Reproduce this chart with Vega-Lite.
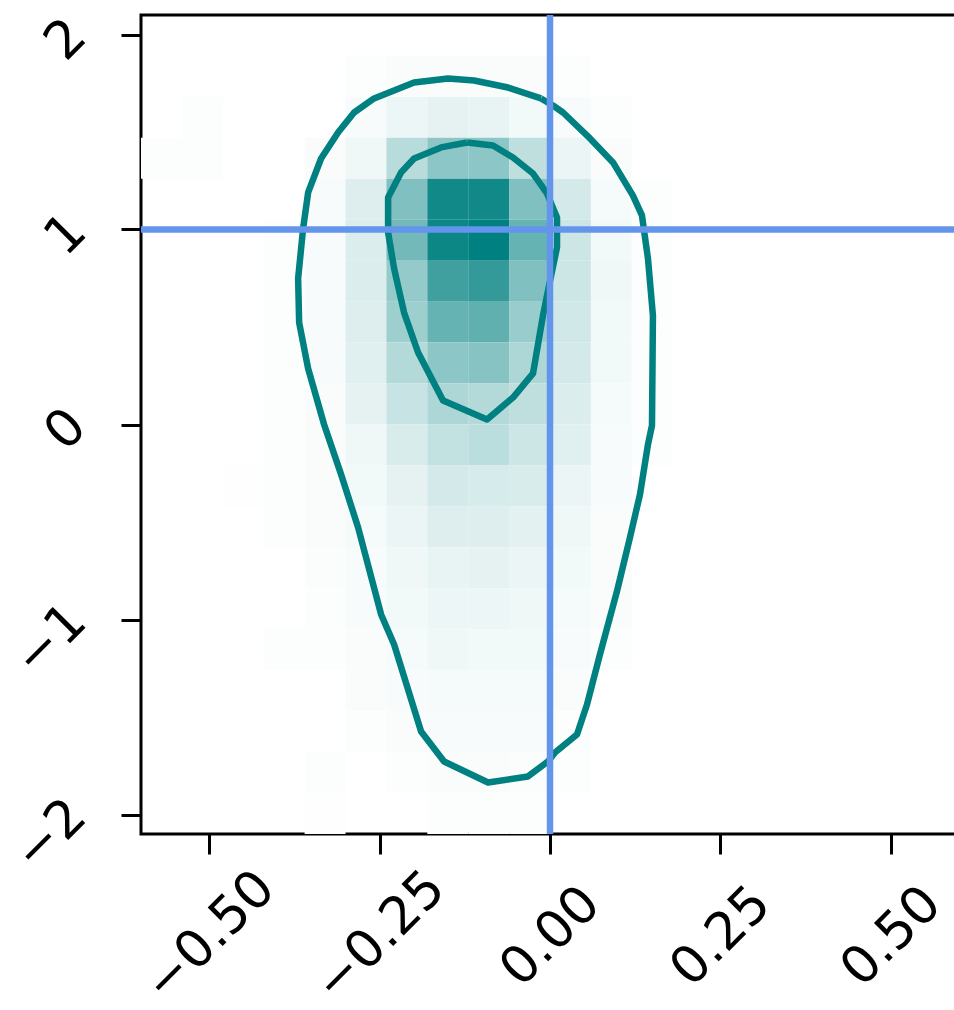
{
  "$schema": "https://vega.github.io/schema/vega-lite/v6.json",
  "width": 818,
  "height": 819,
  "autosize": {"type": "none"},
  "padding": {"left": 141, "top": 15, "right": 0, "bottom": 176},
  "background": "white",
  "config": {
    "view": {"stroke": "black", "strokeWidth": 3},
    "axis": {
      "domain": false, "grid": false, "ticks": true, "tickSize": 20, "tickWidth": 3, "tickColor": "black",
      "labelFont": "DejaVu Sans", "labelFontSize": 52, "labelColor": "black", "labelAngle": -45,
      "labelOverlap": false, "labelFlush": false, "labelBound": false
    }
  },
  "datasets": {
    "cells": [
      {"x_lo": -0.30, "x_hi": -0.24, "y_lo": 1.68, "y_hi": 1.89, "density": 0.01},
      {"x_lo": -0.24, "x_hi": -0.18, "y_lo": 1.68, "y_hi": 1.89, "density": 0.02},
      {"x_lo": -0.18, "x_hi": -0.12, "y_lo": 1.68, "y_hi": 1.89, "density": 0.02},
      {"x_lo": -0.12, "x_hi": -0.06, "y_lo": 1.68, "y_hi": 1.89, "density": 0.02},
      {"x_lo": -0.06, "x_hi": 0.0, "y_lo": 1.68, "y_hi": 1.89, "density": 0.02},
      {"x_lo": 0.0, "x_hi": 0.06, "y_lo": 1.68, "y_hi": 1.89, "density": 0.01},

      {"x_lo": -0.54, "x_hi": -0.48, "y_lo": 1.47, "y_hi": 1.68, "density": 0.01},
      {"x_lo": -0.30, "x_hi": -0.24, "y_lo": 1.47, "y_hi": 1.68, "density": 0.03},
      {"x_lo": -0.24, "x_hi": -0.18, "y_lo": 1.47, "y_hi": 1.68, "density": 0.07},
      {"x_lo": -0.18, "x_hi": -0.12, "y_lo": 1.47, "y_hi": 1.68, "density": 0.10},
      {"x_lo": -0.12, "x_hi": -0.06, "y_lo": 1.47, "y_hi": 1.68, "density": 0.09},
      {"x_lo": -0.06, "x_hi": 0.0, "y_lo": 1.47, "y_hi": 1.68, "density": 0.05},
      {"x_lo": 0.0, "x_hi": 0.06, "y_lo": 1.47, "y_hi": 1.68, "density": 0.03},
      {"x_lo": 0.06, "x_hi": 0.12, "y_lo": 1.47, "y_hi": 1.68, "density": 0.01},

      {"x_lo": -0.60, "x_hi": -0.54, "y_lo": 1.26, "y_hi": 1.47, "density": 0.01},
      {"x_lo": -0.54, "x_hi": -0.48, "y_lo": 1.26, "y_hi": 1.47, "density": 0.01},
      {"x_lo": -0.36, "x_hi": -0.30, "y_lo": 1.26, "y_hi": 1.47, "density": 0.02},
      {"x_lo": -0.30, "x_hi": -0.24, "y_lo": 1.26, "y_hi": 1.47, "density": 0.06},
      {"x_lo": -0.24, "x_hi": -0.18, "y_lo": 1.26, "y_hi": 1.47, "density": 0.28},
      {"x_lo": -0.18, "x_hi": -0.12, "y_lo": 1.26, "y_hi": 1.47, "density": 0.45},
      {"x_lo": -0.12, "x_hi": -0.06, "y_lo": 1.26, "y_hi": 1.47, "density": 0.45},
      {"x_lo": -0.06, "x_hi": 0.0, "y_lo": 1.26, "y_hi": 1.47, "density": 0.25},
      {"x_lo": 0.0, "x_hi": 0.06, "y_lo": 1.26, "y_hi": 1.47, "density": 0.08},
      {"x_lo": 0.06, "x_hi": 0.12, "y_lo": 1.26, "y_hi": 1.47, "density": 0.02},

      {"x_lo": -0.36, "x_hi": -0.30, "y_lo": 1.05, "y_hi": 1.26, "density": 0.03},
      {"x_lo": -0.30, "x_hi": -0.24, "y_lo": 1.05, "y_hi": 1.26, "density": 0.13},
      {"x_lo": -0.24, "x_hi": -0.18, "y_lo": 1.05, "y_hi": 1.26, "density": 0.50},
      {"x_lo": -0.18, "x_hi": -0.12, "y_lo": 1.05, "y_hi": 1.26, "density": 0.93},
      {"x_lo": -0.12, "x_hi": -0.06, "y_lo": 1.05, "y_hi": 1.26, "density": 0.93},
      {"x_lo": -0.06, "x_hi": 0.0, "y_lo": 1.05, "y_hi": 1.26, "density": 0.50},
      {"x_lo": 0.0, "x_hi": 0.06, "y_lo": 1.05, "y_hi": 1.26, "density": 0.17},
      {"x_lo": 0.06, "x_hi": 0.12, "y_lo": 1.05, "y_hi": 1.26, "density": 0.04},
      {"x_lo": 0.12, "x_hi": 0.18, "y_lo": 1.05, "y_hi": 1.26, "density": 0.01},

      {"x_lo": -0.42, "x_hi": -0.36, "y_lo": 0.84, "y_hi": 1.05, "density": 0.01},
      {"x_lo": -0.36, "x_hi": -0.30, "y_lo": 0.84, "y_hi": 1.05, "density": 0.03},
      {"x_lo": -0.30, "x_hi": -0.24, "y_lo": 0.84, "y_hi": 1.05, "density": 0.14},
      {"x_lo": -0.24, "x_hi": -0.18, "y_lo": 0.84, "y_hi": 1.05, "density": 0.55},
      {"x_lo": -0.18, "x_hi": -0.12, "y_lo": 0.84, "y_hi": 1.05, "density": 0.95},
      {"x_lo": -0.12, "x_hi": -0.06, "y_lo": 0.84, "y_hi": 1.05, "density": 1.00},
      {"x_lo": -0.06, "x_hi": 0.0, "y_lo": 0.84, "y_hi": 1.05, "density": 0.60},
      {"x_lo": 0.0, "x_hi": 0.06, "y_lo": 0.84, "y_hi": 1.05, "density": 0.20},
      {"x_lo": 0.06, "x_hi": 0.12, "y_lo": 0.84, "y_hi": 1.05, "density": 0.05},
      {"x_lo": 0.12, "x_hi": 0.18, "y_lo": 0.84, "y_hi": 1.05, "density": 0.01},

      {"x_lo": -0.42, "x_hi": -0.36, "y_lo": 0.63, "y_hi": 0.84, "density": 0.01},
      {"x_lo": -0.36, "x_hi": -0.30, "y_lo": 0.63, "y_hi": 0.84, "density": 0.03},
      {"x_lo": -0.30, "x_hi": -0.24, "y_lo": 0.63, "y_hi": 0.84, "density": 0.14},
      {"x_lo": -0.24, "x_hi": -0.18, "y_lo": 0.63, "y_hi": 0.84, "density": 0.42},
      {"x_lo": -0.18, "x_hi": -0.12, "y_lo": 0.63, "y_hi": 0.84, "density": 0.75},
      {"x_lo": -0.12, "x_hi": -0.06, "y_lo": 0.63, "y_hi": 0.84, "density": 0.80},
      {"x_lo": -0.06, "x_hi": 0.0, "y_lo": 0.63, "y_hi": 0.84, "density": 0.50},
      {"x_lo": 0.0, "x_hi": 0.06, "y_lo": 0.63, "y_hi": 0.84, "density": 0.20},
      {"x_lo": 0.06, "x_hi": 0.12, "y_lo": 0.63, "y_hi": 0.84, "density": 0.06},
      {"x_lo": 0.12, "x_hi": 0.18, "y_lo": 0.63, "y_hi": 0.84, "density": 0.01},

      {"x_lo": -0.42, "x_hi": -0.36, "y_lo": 0.42, "y_hi": 0.63, "density": 0.01},
      {"x_lo": -0.36, "x_hi": -0.30, "y_lo": 0.42, "y_hi": 0.63, "density": 0.03},
      {"x_lo": -0.30, "x_hi": -0.24, "y_lo": 0.42, "y_hi": 0.63, "density": 0.13},
      {"x_lo": -0.24, "x_hi": -0.18, "y_lo": 0.42, "y_hi": 0.63, "density": 0.38},
      {"x_lo": -0.18, "x_hi": -0.12, "y_lo": 0.42, "y_hi": 0.63, "density": 0.60},
      {"x_lo": -0.12, "x_hi": -0.06, "y_lo": 0.42, "y_hi": 0.63, "density": 0.62},
      {"x_lo": -0.06, "x_hi": 0.0, "y_lo": 0.42, "y_hi": 0.63, "density": 0.40},
      {"x_lo": 0.0, "x_hi": 0.06, "y_lo": 0.42, "y_hi": 0.63, "density": 0.18},
      {"x_lo": 0.06, "x_hi": 0.12, "y_lo": 0.42, "y_hi": 0.63, "density": 0.05},
      {"x_lo": 0.12, "x_hi": 0.18, "y_lo": 0.42, "y_hi": 0.63, "density": 0.01},

      {"x_lo": -0.42, "x_hi": -0.36, "y_lo": 0.21, "y_hi": 0.42, "density": 0.01},
      {"x_lo": -0.36, "x_hi": -0.30, "y_lo": 0.21, "y_hi": 0.42, "density": 0.03},
      {"x_lo": -0.30, "x_hi": -0.24, "y_lo": 0.21, "y_hi": 0.42, "density": 0.12},
      {"x_lo": -0.24, "x_hi": -0.18, "y_lo": 0.21, "y_hi": 0.42, "density": 0.30},
      {"x_lo": -0.18, "x_hi": -0.12, "y_lo": 0.21, "y_hi": 0.42, "density": 0.45},
      {"x_lo": -0.12, "x_hi": -0.06, "y_lo": 0.21, "y_hi": 0.42, "density": 0.47},
      {"x_lo": -0.06, "x_hi": 0.0, "y_lo": 0.21, "y_hi": 0.42, "density": 0.32},
      {"x_lo": 0.0, "x_hi": 0.06, "y_lo": 0.21, "y_hi": 0.42, "density": 0.17},
      {"x_lo": 0.06, "x_hi": 0.12, "y_lo": 0.21, "y_hi": 0.42, "density": 0.05},
      {"x_lo": 0.12, "x_hi": 0.18, "y_lo": 0.21, "y_hi": 0.42, "density": 0.01},

      {"x_lo": -0.42, "x_hi": -0.36, "y_lo": 0.0, "y_hi": 0.21, "density": 0.01},
      {"x_lo": -0.36, "x_hi": -0.30, "y_lo": 0.0, "y_hi": 0.21, "density": 0.02},
      {"x_lo": -0.30, "x_hi": -0.24, "y_lo": 0.0, "y_hi": 0.21, "density": 0.10},
      {"x_lo": -0.24, "x_hi": -0.18, "y_lo": 0.0, "y_hi": 0.21, "density": 0.22},
      {"x_lo": -0.18, "x_hi": -0.12, "y_lo": 0.0, "y_hi": 0.21, "density": 0.32},
      {"x_lo": -0.12, "x_hi": -0.06, "y_lo": 0.0, "y_hi": 0.21, "density": 0.30},
      {"x_lo": -0.06, "x_hi": 0.0, "y_lo": 0.0, "y_hi": 0.21, "density": 0.25},
      {"x_lo": 0.0, "x_hi": 0.06, "y_lo": 0.0, "y_hi": 0.21, "density": 0.14},
      {"x_lo": 0.06, "x_hi": 0.12, "y_lo": 0.0, "y_hi": 0.21, "density": 0.04},
      {"x_lo": 0.12, "x_hi": 0.18, "y_lo": 0.0, "y_hi": 0.21, "density": 0.01},

      {"x_lo": -0.42, "x_hi": -0.36, "y_lo": -0.21, "y_hi": 0.0, "density": 0.01},
      {"x_lo": -0.36, "x_hi": -0.30, "y_lo": -0.21, "y_hi": 0.0, "density": 0.02},
      {"x_lo": -0.30, "x_hi": -0.24, "y_lo": -0.21, "y_hi": 0.0, "density": 0.06},
      {"x_lo": -0.24, "x_hi": -0.18, "y_lo": -0.21, "y_hi": 0.0, "density": 0.15},
      {"x_lo": -0.18, "x_hi": -0.12, "y_lo": -0.21, "y_hi": 0.0, "density": 0.24},
      {"x_lo": -0.12, "x_hi": -0.06, "y_lo": -0.21, "y_hi": 0.0, "density": 0.27},
      {"x_lo": -0.06, "x_hi": 0.0, "y_lo": -0.21, "y_hi": 0.0, "density": 0.20},
      {"x_lo": 0.0, "x_hi": 0.06, "y_lo": -0.21, "y_hi": 0.0, "density": 0.12},
      {"x_lo": 0.06, "x_hi": 0.12, "y_lo": -0.21, "y_hi": 0.0, "density": 0.03},
      {"x_lo": 0.12, "x_hi": 0.18, "y_lo": -0.21, "y_hi": 0.0, "density": 0.01},

      {"x_lo": -0.48, "x_hi": -0.42, "y_lo": -0.42, "y_hi": -0.21, "density": 0.005},
      {"x_lo": -0.42, "x_hi": -0.36, "y_lo": -0.42, "y_hi": -0.21, "density": 0.01},
      {"x_lo": -0.36, "x_hi": -0.30, "y_lo": -0.42, "y_hi": -0.21, "density": 0.02},
      {"x_lo": -0.30, "x_hi": -0.24, "y_lo": -0.42, "y_hi": -0.21, "density": 0.05},
      {"x_lo": -0.24, "x_hi": -0.18, "y_lo": -0.42, "y_hi": -0.21, "density": 0.10},
      {"x_lo": -0.18, "x_hi": -0.12, "y_lo": -0.42, "y_hi": -0.21, "density": 0.17},
      {"x_lo": -0.12, "x_hi": -0.06, "y_lo": -0.42, "y_hi": -0.21, "density": 0.16},
      {"x_lo": -0.06, "x_hi": 0.0, "y_lo": -0.42, "y_hi": -0.21, "density": 0.15},
      {"x_lo": 0.0, "x_hi": 0.06, "y_lo": -0.42, "y_hi": -0.21, "density": 0.08},
      {"x_lo": 0.06, "x_hi": 0.12, "y_lo": -0.42, "y_hi": -0.21, "density": 0.03},

      {"x_lo": -0.42, "x_hi": -0.36, "y_lo": -0.63, "y_hi": -0.42, "density": 0.01},
      {"x_lo": -0.36, "x_hi": -0.30, "y_lo": -0.63, "y_hi": -0.42, "density": 0.02},
      {"x_lo": -0.30, "x_hi": -0.24, "y_lo": -0.63, "y_hi": -0.42, "density": 0.04},
      {"x_lo": -0.24, "x_hi": -0.18, "y_lo": -0.63, "y_hi": -0.42, "density": 0.08},
      {"x_lo": -0.18, "x_hi": -0.12, "y_lo": -0.63, "y_hi": -0.42, "density": 0.13},
      {"x_lo": -0.12, "x_hi": -0.06, "y_lo": -0.63, "y_hi": -0.42, "density": 0.13},
      {"x_lo": -0.06, "x_hi": 0.0, "y_lo": -0.63, "y_hi": -0.42, "density": 0.11},
      {"x_lo": 0.0, "x_hi": 0.06, "y_lo": -0.63, "y_hi": -0.42, "density": 0.06},
      {"x_lo": 0.06, "x_hi": 0.12, "y_lo": -0.63, "y_hi": -0.42, "density": 0.02},

      {"x_lo": -0.36, "x_hi": -0.30, "y_lo": -0.84, "y_hi": -0.63, "density": 0.015},
      {"x_lo": -0.30, "x_hi": -0.24, "y_lo": -0.84, "y_hi": -0.63, "density": 0.03},
      {"x_lo": -0.24, "x_hi": -0.18, "y_lo": -0.84, "y_hi": -0.63, "density": 0.06},
      {"x_lo": -0.18, "x_hi": -0.12, "y_lo": -0.84, "y_hi": -0.63, "density": 0.09},
      {"x_lo": -0.12, "x_hi": -0.06, "y_lo": -0.84, "y_hi": -0.63, "density": 0.10},
      {"x_lo": -0.06, "x_hi": 0.0, "y_lo": -0.84, "y_hi": -0.63, "density": 0.08},
      {"x_lo": 0.0, "x_hi": 0.06, "y_lo": -0.84, "y_hi": -0.63, "density": 0.05},
      {"x_lo": 0.06, "x_hi": 0.12, "y_lo": -0.84, "y_hi": -0.63, "density": 0.02},

      {"x_lo": -0.36, "x_hi": -0.30, "y_lo": -1.05, "y_hi": -0.84, "density": 0.01},
      {"x_lo": -0.30, "x_hi": -0.24, "y_lo": -1.05, "y_hi": -0.84, "density": 0.03},
      {"x_lo": -0.24, "x_hi": -0.18, "y_lo": -1.05, "y_hi": -0.84, "density": 0.05},
      {"x_lo": -0.18, "x_hi": -0.12, "y_lo": -1.05, "y_hi": -0.84, "density": 0.07},
      {"x_lo": -0.12, "x_hi": -0.06, "y_lo": -1.05, "y_hi": -0.84, "density": 0.07},
      {"x_lo": -0.06, "x_hi": 0.0, "y_lo": -1.05, "y_hi": -0.84, "density": 0.06},
      {"x_lo": 0.0, "x_hi": 0.06, "y_lo": -1.05, "y_hi": -0.84, "density": 0.04},
      {"x_lo": 0.06, "x_hi": 0.12, "y_lo": -1.05, "y_hi": -0.84, "density": 0.02},

      {"x_lo": -0.42, "x_hi": -0.36, "y_lo": -1.26, "y_hi": -1.05, "density": 0.01},
      {"x_lo": -0.36, "x_hi": -0.30, "y_lo": -1.26, "y_hi": -1.05, "density": 0.01},
      {"x_lo": -0.30, "x_hi": -0.24, "y_lo": -1.26, "y_hi": -1.05, "density": 0.02},
      {"x_lo": -0.24, "x_hi": -0.18, "y_lo": -1.26, "y_hi": -1.05, "density": 0.04},
      {"x_lo": -0.18, "x_hi": -0.12, "y_lo": -1.26, "y_hi": -1.05, "density": 0.06},
      {"x_lo": -0.12, "x_hi": -0.06, "y_lo": -1.26, "y_hi": -1.05, "density": 0.05},
      {"x_lo": -0.06, "x_hi": 0.0, "y_lo": -1.26, "y_hi": -1.05, "density": 0.05},
      {"x_lo": 0.0, "x_hi": 0.06, "y_lo": -1.26, "y_hi": -1.05, "density": 0.03},
      {"x_lo": 0.06, "x_hi": 0.12, "y_lo": -1.26, "y_hi": -1.05, "density": 0.01},

      {"x_lo": -0.30, "x_hi": -0.24, "y_lo": -1.47, "y_hi": -1.26, "density": 0.02},
      {"x_lo": -0.24, "x_hi": -0.18, "y_lo": -1.47, "y_hi": -1.26, "density": 0.03},
      {"x_lo": -0.18, "x_hi": -0.12, "y_lo": -1.47, "y_hi": -1.26, "density": 0.04},
      {"x_lo": -0.12, "x_hi": -0.06, "y_lo": -1.47, "y_hi": -1.26, "density": 0.04},
      {"x_lo": -0.06, "x_hi": 0.0, "y_lo": -1.47, "y_hi": -1.26, "density": 0.04},
      {"x_lo": 0.0, "x_hi": 0.06, "y_lo": -1.47, "y_hi": -1.26, "density": 0.02},

      {"x_lo": -0.30, "x_hi": -0.24, "y_lo": -1.68, "y_hi": -1.47, "density": 0.01},
      {"x_lo": -0.24, "x_hi": -0.18, "y_lo": -1.68, "y_hi": -1.47, "density": 0.02},
      {"x_lo": -0.18, "x_hi": -0.12, "y_lo": -1.68, "y_hi": -1.47, "density": 0.03},
      {"x_lo": -0.12, "x_hi": -0.06, "y_lo": -1.68, "y_hi": -1.47, "density": 0.03},
      {"x_lo": -0.06, "x_hi": 0.0, "y_lo": -1.68, "y_hi": -1.47, "density": 0.03},
      {"x_lo": 0.0, "x_hi": 0.06, "y_lo": -1.68, "y_hi": -1.47, "density": 0.01},

      {"x_lo": -0.36, "x_hi": -0.30, "y_lo": -1.89, "y_hi": -1.68, "density": 0.01},
      {"x_lo": -0.24, "x_hi": -0.18, "y_lo": -1.89, "y_hi": -1.68, "density": 0.01},
      {"x_lo": -0.18, "x_hi": -0.12, "y_lo": -1.89, "y_hi": -1.68, "density": 0.02},
      {"x_lo": -0.12, "x_hi": -0.06, "y_lo": -1.89, "y_hi": -1.68, "density": 0.02},
      {"x_lo": -0.06, "x_hi": 0.0, "y_lo": -1.89, "y_hi": -1.68, "density": 0.015},
      {"x_lo": 0.0, "x_hi": 0.06, "y_lo": -1.89, "y_hi": -1.68, "density": 0.01},

      {"x_lo": -0.36, "x_hi": -0.30, "y_lo": -2.1, "y_hi": -1.89, "density": 0.005},
      {"x_lo": -0.18, "x_hi": -0.12, "y_lo": -2.1, "y_hi": -1.89, "density": 0.01},
      {"x_lo": -0.12, "x_hi": -0.06, "y_lo": -2.1, "y_hi": -1.89, "density": 0.01},
      {"x_lo": -0.06, "x_hi": 0.0, "y_lo": -2.1, "y_hi": -1.89, "density": 0.01}
    ],
    "outer": [
      {"k": 1, "x": -0.0132, "y": 1.672},
      {"k": 2, "x": -0.0616, "y": 1.728},
      {"k": 3, "x": -0.1114, "y": 1.764},
      {"k": 4, "x": -0.1496, "y": 1.774},
      {"k": 5, "x": -0.1994, "y": 1.754},
      {"k": 6, "x": -0.2581, "y": 1.672},
      {"k": 7, "x": -0.2874, "y": 1.600},
      {"k": 8, "x": -0.3109, "y": 1.497},
      {"k": 9, "x": -0.3358, "y": 1.364},
      {"k": 10, "x": -0.3548, "y": 1.190},
      {"k": 11, "x": -0.3622, "y": 1.005},
      {"k": 12, "x": -0.3695, "y": 0.749},
      {"k": 13, "x": -0.3680, "y": 0.523},
      {"k": 14, "x": -0.3548, "y": 0.287},
      {"k": 15, "x": -0.3314, "y": 0.0},
      {"k": 16, "x": -0.3065, "y": -0.256},
      {"k": 17, "x": -0.2815, "y": -0.528},
      {"k": 18, "x": -0.2478, "y": -0.974},
      {"k": 19, "x": -0.2287, "y": -1.128},
      {"k": 20, "x": -0.1891, "y": -1.574},
      {"k": 21, "x": -0.1554, "y": -1.728},
      {"k": 22, "x": -0.0909, "y": -1.836},
      {"k": 23, "x": -0.0323, "y": -1.805},
      {"k": 24, "x": -0.0029, "y": -1.728},
      {"k": 25, "x": 0.0073, "y": -1.682},
      {"k": 26, "x": 0.0396, "y": -1.590},
      {"k": 27, "x": 0.0543, "y": -1.436},
      {"k": 28, "x": 0.0733, "y": -1.179},
      {"k": 29, "x": 0.0982, "y": -0.856},
      {"k": 30, "x": 0.1173, "y": -0.579},
      {"k": 31, "x": 0.1320, "y": -0.359},
      {"k": 32, "x": 0.1437, "y": -0.103},
      {"k": 33, "x": 0.1496, "y": -0.005},
      {"k": 34, "x": 0.1510, "y": 0.559},
      {"k": 35, "x": 0.1437, "y": 0.851},
      {"k": 36, "x": 0.1349, "y": 1.072},
      {"k": 37, "x": 0.1217, "y": 1.174},
      {"k": 38, "x": 0.0924, "y": 1.344},
      {"k": 39, "x": 0.0587, "y": 1.467},
      {"k": 40, "x": 0.0191, "y": 1.600},
      {"k": 41, "x": 0.0044, "y": 1.636},
      {"k": 42, "x": -0.0132, "y": 1.672}
    ],
    "inner": [
      {"k": 1, "x": -0.1217, "y": 1.446},
      {"k": 2, "x": -0.1598, "y": 1.421},
      {"k": 3, "x": -0.1994, "y": 1.364},
      {"k": 4, "x": -0.2185, "y": 1.292},
      {"k": 5, "x": -0.2375, "y": 1.164},
      {"k": 6, "x": -0.2375, "y": 0.985},
      {"k": 7, "x": -0.2287, "y": 0.800},
      {"k": 8, "x": -0.2141, "y": 0.574},
      {"k": 9, "x": -0.1935, "y": 0.369},
      {"k": 10, "x": -0.1569, "y": 0.123},
      {"k": 11, "x": -0.0924, "y": 0.026},
      {"k": 12, "x": -0.0543, "y": 0.138},
      {"k": 13, "x": -0.0249, "y": 0.262},
      {"k": 14, "x": -0.0103, "y": 0.559},
      {"k": 15, "x": -0.0029, "y": 0.687},
      {"k": 16, "x": 0.0103, "y": 0.908},
      {"k": 17, "x": 0.0103, "y": 1.062},
      {"k": 18, "x": -0.0044, "y": 1.185},
      {"k": 19, "x": -0.0249, "y": 1.287},
      {"k": 20, "x": -0.0543, "y": 1.369},
      {"k": 21, "x": -0.0836, "y": 1.431},
      {"k": 22, "x": -0.1217, "y": 1.446}
    ],
    "vline": [{"x": 0}],
    "hline": [{"y": 1}]
  },
  "layer": [
    {
      "data": {"name": "cells"},
      "mark": {"type": "rect", "strokeWidth": 0},
      "encoding": {
        "x": {"field": "x_lo", "type": "quantitative", "title": null,
              "scale": {"domain": [-0.6, 0.6], "nice": false, "zero": false},
              "axis": {"values": [-0.5, -0.25, 0, 0.25, 0.5], "format": ".2f", "labelPadding": 82,
                       "labelAlign": "center", "labelBaseline": "middle"}},
        "x2": {"field": "x_hi"},
        "y": {"field": "y_lo", "type": "quantitative", "title": null,
              "scale": {"domain": [-2.1, 2.1], "nice": false, "zero": false},
              "axis": {"values": [-2, -1, 0, 1, 2], "format": "d", "labelPadding": 44,
                       "labelAlign": "right", "labelBaseline": "middle", "labelOffset": -7}},
        "y2": {"field": "y_hi"},
        "color": {"field": "density", "type": "quantitative", "legend": null,
                  "scale": {"domain": [0, 1], "range": ["#ffffff", "#008080"], "interpolate": "rgb"}}
      }
    },
    {
      "data": {"name": "outer"},
      "mark": {"type": "line", "color": "#008080", "strokeWidth": 6.5, "strokeJoin": "round"},
      "encoding": {
        "x": {"field": "x", "type": "quantitative", "title": null},
        "y": {"field": "y", "type": "quantitative", "title": null},
        "order": {"field": "k", "type": "quantitative"}
      }
    },
    {
      "data": {"name": "inner"},
      "mark": {"type": "line", "color": "#008080", "strokeWidth": 6.5, "strokeJoin": "round"},
      "encoding": {
        "x": {"field": "x", "type": "quantitative", "title": null},
        "y": {"field": "y", "type": "quantitative", "title": null},
        "order": {"field": "k", "type": "quantitative"}
      }
    },
    {
      "data": {"name": "vline"},
      "mark": {"type": "rule", "color": "#6495ED", "strokeWidth": 6.5},
      "encoding": {"x": {"field": "x", "type": "quantitative", "title": null}}
    },
    {
      "data": {"name": "hline"},
      "mark": {"type": "rule", "color": "#6495ED", "strokeWidth": 6.5},
      "encoding": {"y": {"field": "y", "type": "quantitative", "title": null}}
    }
  ]
}
